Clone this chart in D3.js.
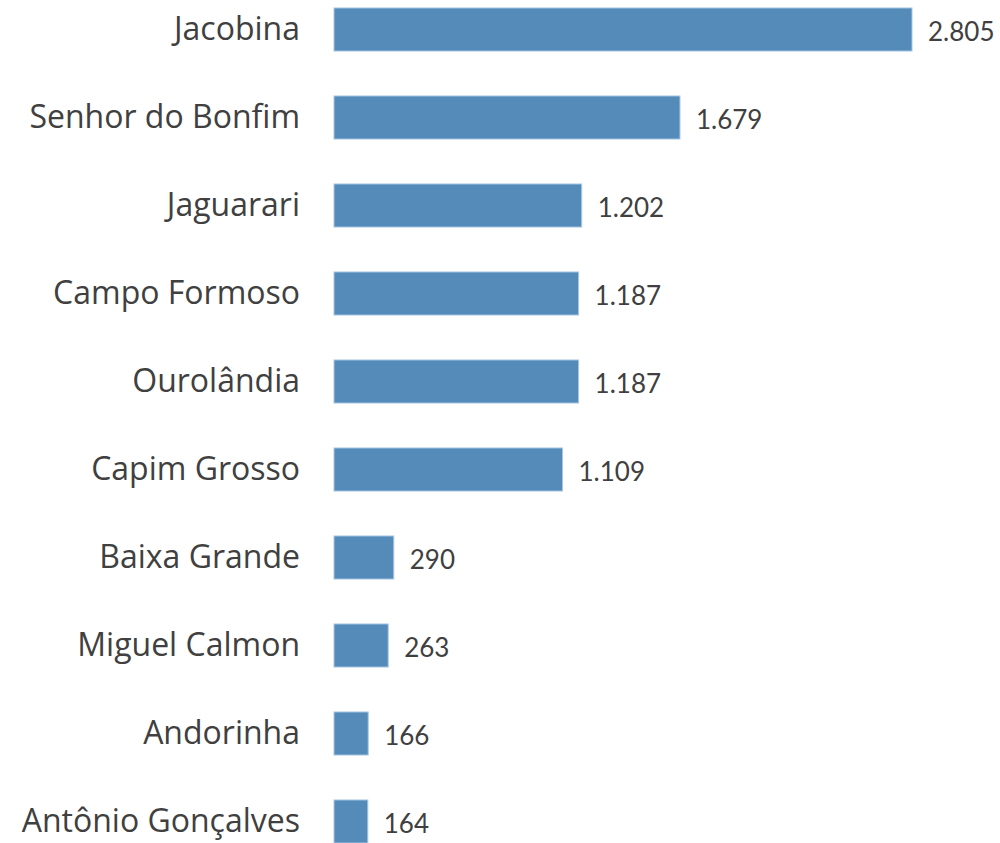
<!DOCTYPE html>
<html><head><meta charset="utf-8">
<script src="https://cdn.jsdelivr.net/npm/d3@7"></script>
<style>body{margin:0;background:#fff}svg{display:block}</style>
</head><body>
<svg id="c" width="1000" height="843"></svg>
<script>
const categories = ["Jacobina","Senhor do Bonfim","Jaguarari","Campo Formoso","Ourolândia","Capim Grosso","Baixa Grande","Miguel Calmon","Andorinha","Antônio Gonçalves"];
const values = [2805,1679,1202,1187,1187,1109,290,263,166,164];
const valueLabels = ["2.805","1.679","1.202","1.187","1.187","1.109","290","263","166","164"];

const svg = d3.select("#c");
const x = d3.scaleLinear().domain([0, d3.max(values)]).range([334, 912]);
const y = d3.scaleBand().domain(categories).range([-14.5, 865.5]).paddingInner(0.511).paddingOuter(0.2555);

const data = categories.map((c,i)=>({c, v:values[i], l:valueLabels[i]}));

svg.selectAll("rect.bar").data(data).join("rect")
  .attr("class","bar")
  .attr("x", x(0)).attr("y", d=>y(d.c))
  .attr("width", d=>x(d.v)-x(0)).attr("height", y.bandwidth())
  .attr("fill","#548bb9").attr("stroke","#a9c6e0").attr("stroke-width",1);

svg.selectAll("text.cat").data(data).join("text")
  .attr("class","cat")
  .attr("x", 300).attr("y", d=>y(d.c)+y.bandwidth()/2)
  .attr("dy","0.32em").attr("text-anchor","end")
  .attr("font-family","'Open Sans', sans-serif").attr("font-size",32)
  .attr("fill","#404040").text(d=>d.c);

svg.selectAll("text.val").data(data).join("text")
  .attr("class","val")
  .attr("x", d=>x(d.v)+16).attr("y", d=>y(d.c)+y.bandwidth()/2)
  .attr("dy","0.45em").attr("text-anchor","start")
  .attr("font-family","Lato, sans-serif").attr("font-size",26)
  .attr("fill","#404040").text(d=>d.l);
</script>
</body></html>
